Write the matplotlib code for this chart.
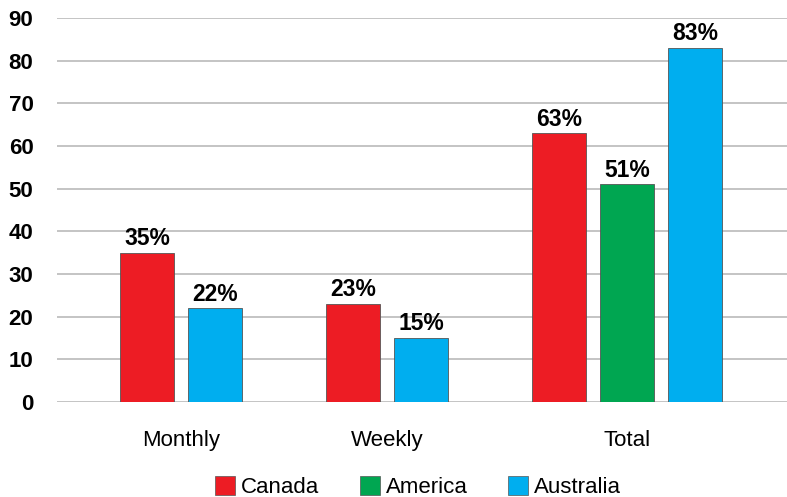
import matplotlib.pyplot as plt

plt.rcParams['font.family'] = ['Liberation Sans', 'DejaVu Sans']

categories = ['Monthly', 'Weekly', 'Total']
series = ['Canada', 'America', 'Australia']
colors = ['#ED1C24', '#00A651', '#00AEEF']
# None = series not reported for that period
values = {
    'Canada':    [35, 23, 63],
    'America':   [None, None, 51],
    'Australia': [22, 15, 83],
}

fig = plt.figure(figsize=(7.87, 4.97), dpi=100)
ax = fig.add_axes([57 / 787, 1 - 402 / 497, 1 - 57 / 787, 384 / 497])

# bars are packed one slot apart, with a slightly wider empty slot between periods
pos = 0
centers = []
for i, cat in enumerate(categories):
    start = pos
    for s, c in zip(series, colors):
        v = values[s][i]
        if v is None:
            continue
        ax.bar(pos, v, width=0.79, color=c, edgecolor='#555555', linewidth=0.6, zorder=3)
        ax.text(pos, v + 0.6, f'{v}%', ha='center', va='bottom',
                fontsize=16.5, fontweight='bold', zorder=4)
        pos += 1
    centers.append((start + pos - 1) / 2)
    pos += 1.03

ax.set_xlim(-1.324, 9.41)
ax.set_ylim(0, 90)
ax.set_yticks(range(0, 91, 10))
ax.set_xticks(centers)
ax.set_xticklabels(categories)
ax.tick_params(axis='y', length=0, pad=17, labelsize=16)
ax.tick_params(axis='x', length=0, pad=20, labelsize=16)
for lab in ax.get_yticklabels():
    lab.set_fontweight('bold')
ax.grid(axis='y', color='#BFBFBF', linewidth=1.3, zorder=0)
for sp in ax.spines.values():
    sp.set_visible(False)

handles = [plt.Rectangle((0, 0), 1, 1, facecolor=c, edgecolor='#555555', linewidth=0.5)
           for c in colors]
fig.legend(handles, series, loc='center', bbox_to_anchor=(418 / 787, 1 - 487 / 497),
           ncol=3, frameon=False, fontsize=16, handlelength=0.9, handleheight=0.9,
           handletextpad=0.25, columnspacing=1.85, borderpad=0)

fig.savefig('out.png', dpi=100)
